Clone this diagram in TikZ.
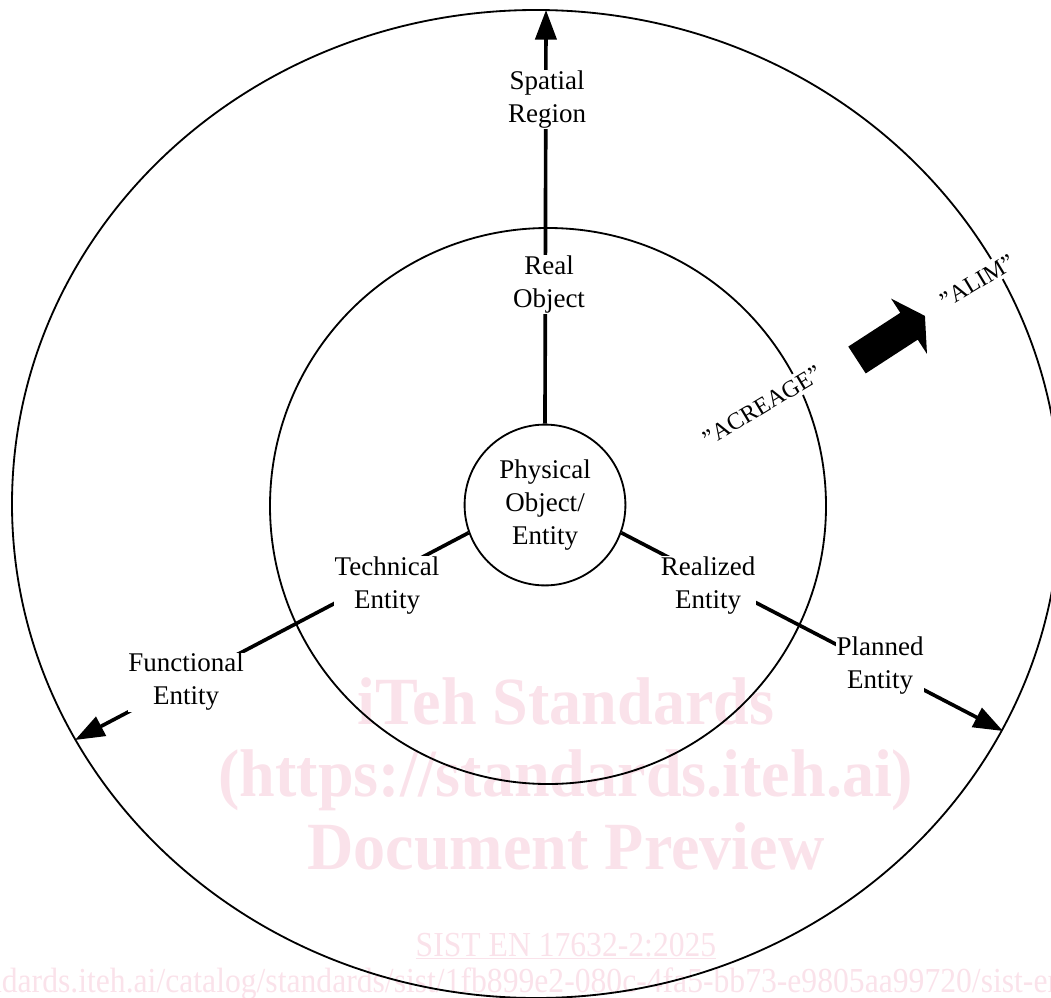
\documentclass[tikz,border=0pt]{standalone}
\usepackage{fontspec}
\setmainfont{Liberation Serif}
\usetikzlibrary{arrows.meta}
\definecolor{wmpink}{RGB}{250,226,234}
\begin{document}
\begin{tikzpicture}[x=0.025cm, y=-0.025cm,
  lbl/.style={align=center, inner sep=0.5pt, fill=white, font=\fontsize{19.2}{23.5}\selectfont},
  tag/.style={inner sep=2.5pt, fill=white, font=\fontsize{17}{20}\selectfont},
  conn/.style={line width=2.6pt, -{Triangle[length=21pt,width=15pt]}},
  ring/.style={line width=1.3pt},
  wmbig/.style={text=wmpink, font=\bfseries\fontsize{48}{50}\selectfont, xscale=.95},
  wmsmall/.style={text=wmpink, font=\fontsize{25}{27}\selectfont, xscale=.9}]
\useasboundingbox (0,0) rectangle (1051,998);
\clip (0,0) rectangle (1051,998);
% watermark
\node[wmbig, anchor=base] (wm1) at (566,724) {iTeh Standards};
\node[wmbig, anchor=base] (wm2) at (566,796) {(https://standards.iteh.ai)};
\node[wmbig, anchor=base] (wm3) at (566,869) {Document Preview};
\node[wmsmall, anchor=base] (wm4) at (566,956) {\underline{SIST EN 17632-2:2025}};
\node[wmsmall, anchor=base] (wm5) at (558,992) {https://standards.iteh.ai/catalog/standards/sist/1fb899e2-080c-4fa5-bb73-e9805aa99720/sist-en-17632-2-2025};
% rings
\draw[ring] (536,504) ellipse [x radius=524, y radius=494];
\draw[ring] (548,506) circle [radius=278];
% centre and spokes
\node[circle, draw, ring, fill=white, minimum size=4.02cm, inner sep=0pt, align=center,
  font=\fontsize{19.2}{23.5}\selectfont] (phys) at (545,505) {Physical\\Object/\\Entity};
\coordinate (topTip) at (546,10);
\coordinate (leftTip) at (75,740);
\coordinate (rightTip) at (1003,731);
\draw[conn] (phys.north) -- (topTip);
\draw[conn] (phys.200) -- (leftTip);
\draw[conn] (phys.-20) -- (rightTip);
\node[lbl] (real) at (549,284.5) {Real\\Object};
\node[lbl] (spatial) at (547,99.5) {Spatial\\Region};
\node[lbl] (tech) at (387,586) {Technical\\Entity};
\node[lbl] (func) at (186,682) {Functional\\Entity};
\node[lbl] (rlzd) at (708,586) {Realized\\Entity};
\node[lbl] (plan) at (880,666) {Planned\\Entity};
% acreage to alim
\node[tag, rotate=31] (acreage) at (762,406) {''ACREAGE''};
\node[tag, rotate=31] (alim) at (977,281) {''ALIM''};
\fill[shift={(857,360)}, rotate=33] (0,-16) -- (62,-16) -- (62,-33) -- (81,0) -- (62,33) -- (62,16) -- (0,16) -- cycle;
\end{tikzpicture}
\end{document}
